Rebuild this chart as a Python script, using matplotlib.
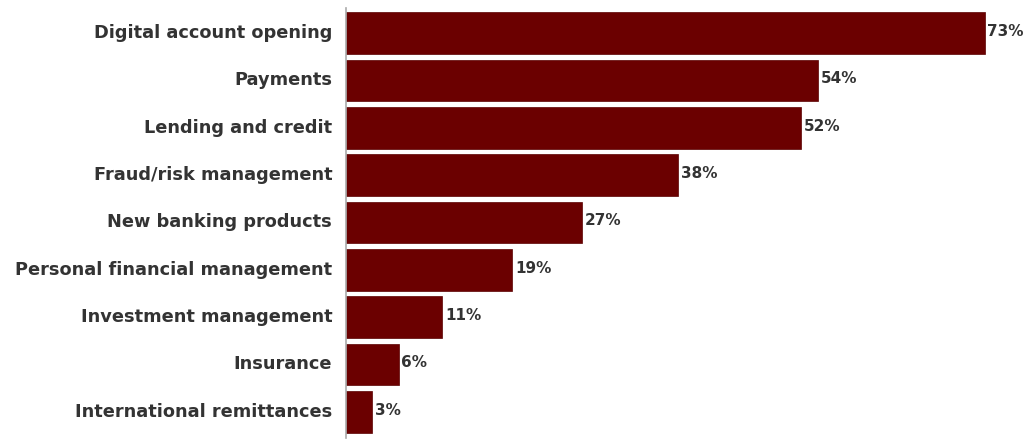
import matplotlib.pyplot as plt

categories = ['Digital account opening', 'Payments', 'Lending and credit',
              'Fraud/risk management', 'New banking products',
              'Personal financial management', 'Investment management',
              'Insurance', 'International remittances']
values = [73, 54, 52, 38, 27, 19, 11, 6, 3]

plt.rcParams['font.family'] = ['DejaVu Sans']

fig = plt.figure(figsize=(10.3, 4.4), dpi=100)
ax = fig.add_axes([0.336, 0.005, 0.664, 0.977])

y = range(len(categories))
ax.barh(y, values, height=0.88, color='#6b0000', edgecolor='#5a0000', linewidth=0.5)
for i, v in enumerate(values):
    ax.text(v + 0.3, i - 0.03, f'{v}%', va='center', ha='left', fontsize=11,
            fontweight='bold', color='#333333')

ax.set_yticks(list(y))
ax.set_yticklabels(categories, fontsize=12.8, fontweight='bold', color='#333333',
                   va='center')
ax.tick_params(axis='y', length=0, pad=10)
ax.set_xticks([])
ax.set_xlim(0, 78.2)
ax.set_ylim(8.55, -0.53)
for s in ['top', 'right', 'bottom']:
    ax.spines[s].set_visible(False)
ax.spines['left'].set_color('#aaaaaa')
ax.spines['left'].set_linewidth(1.2)

fig.savefig('out.png', dpi=100)
